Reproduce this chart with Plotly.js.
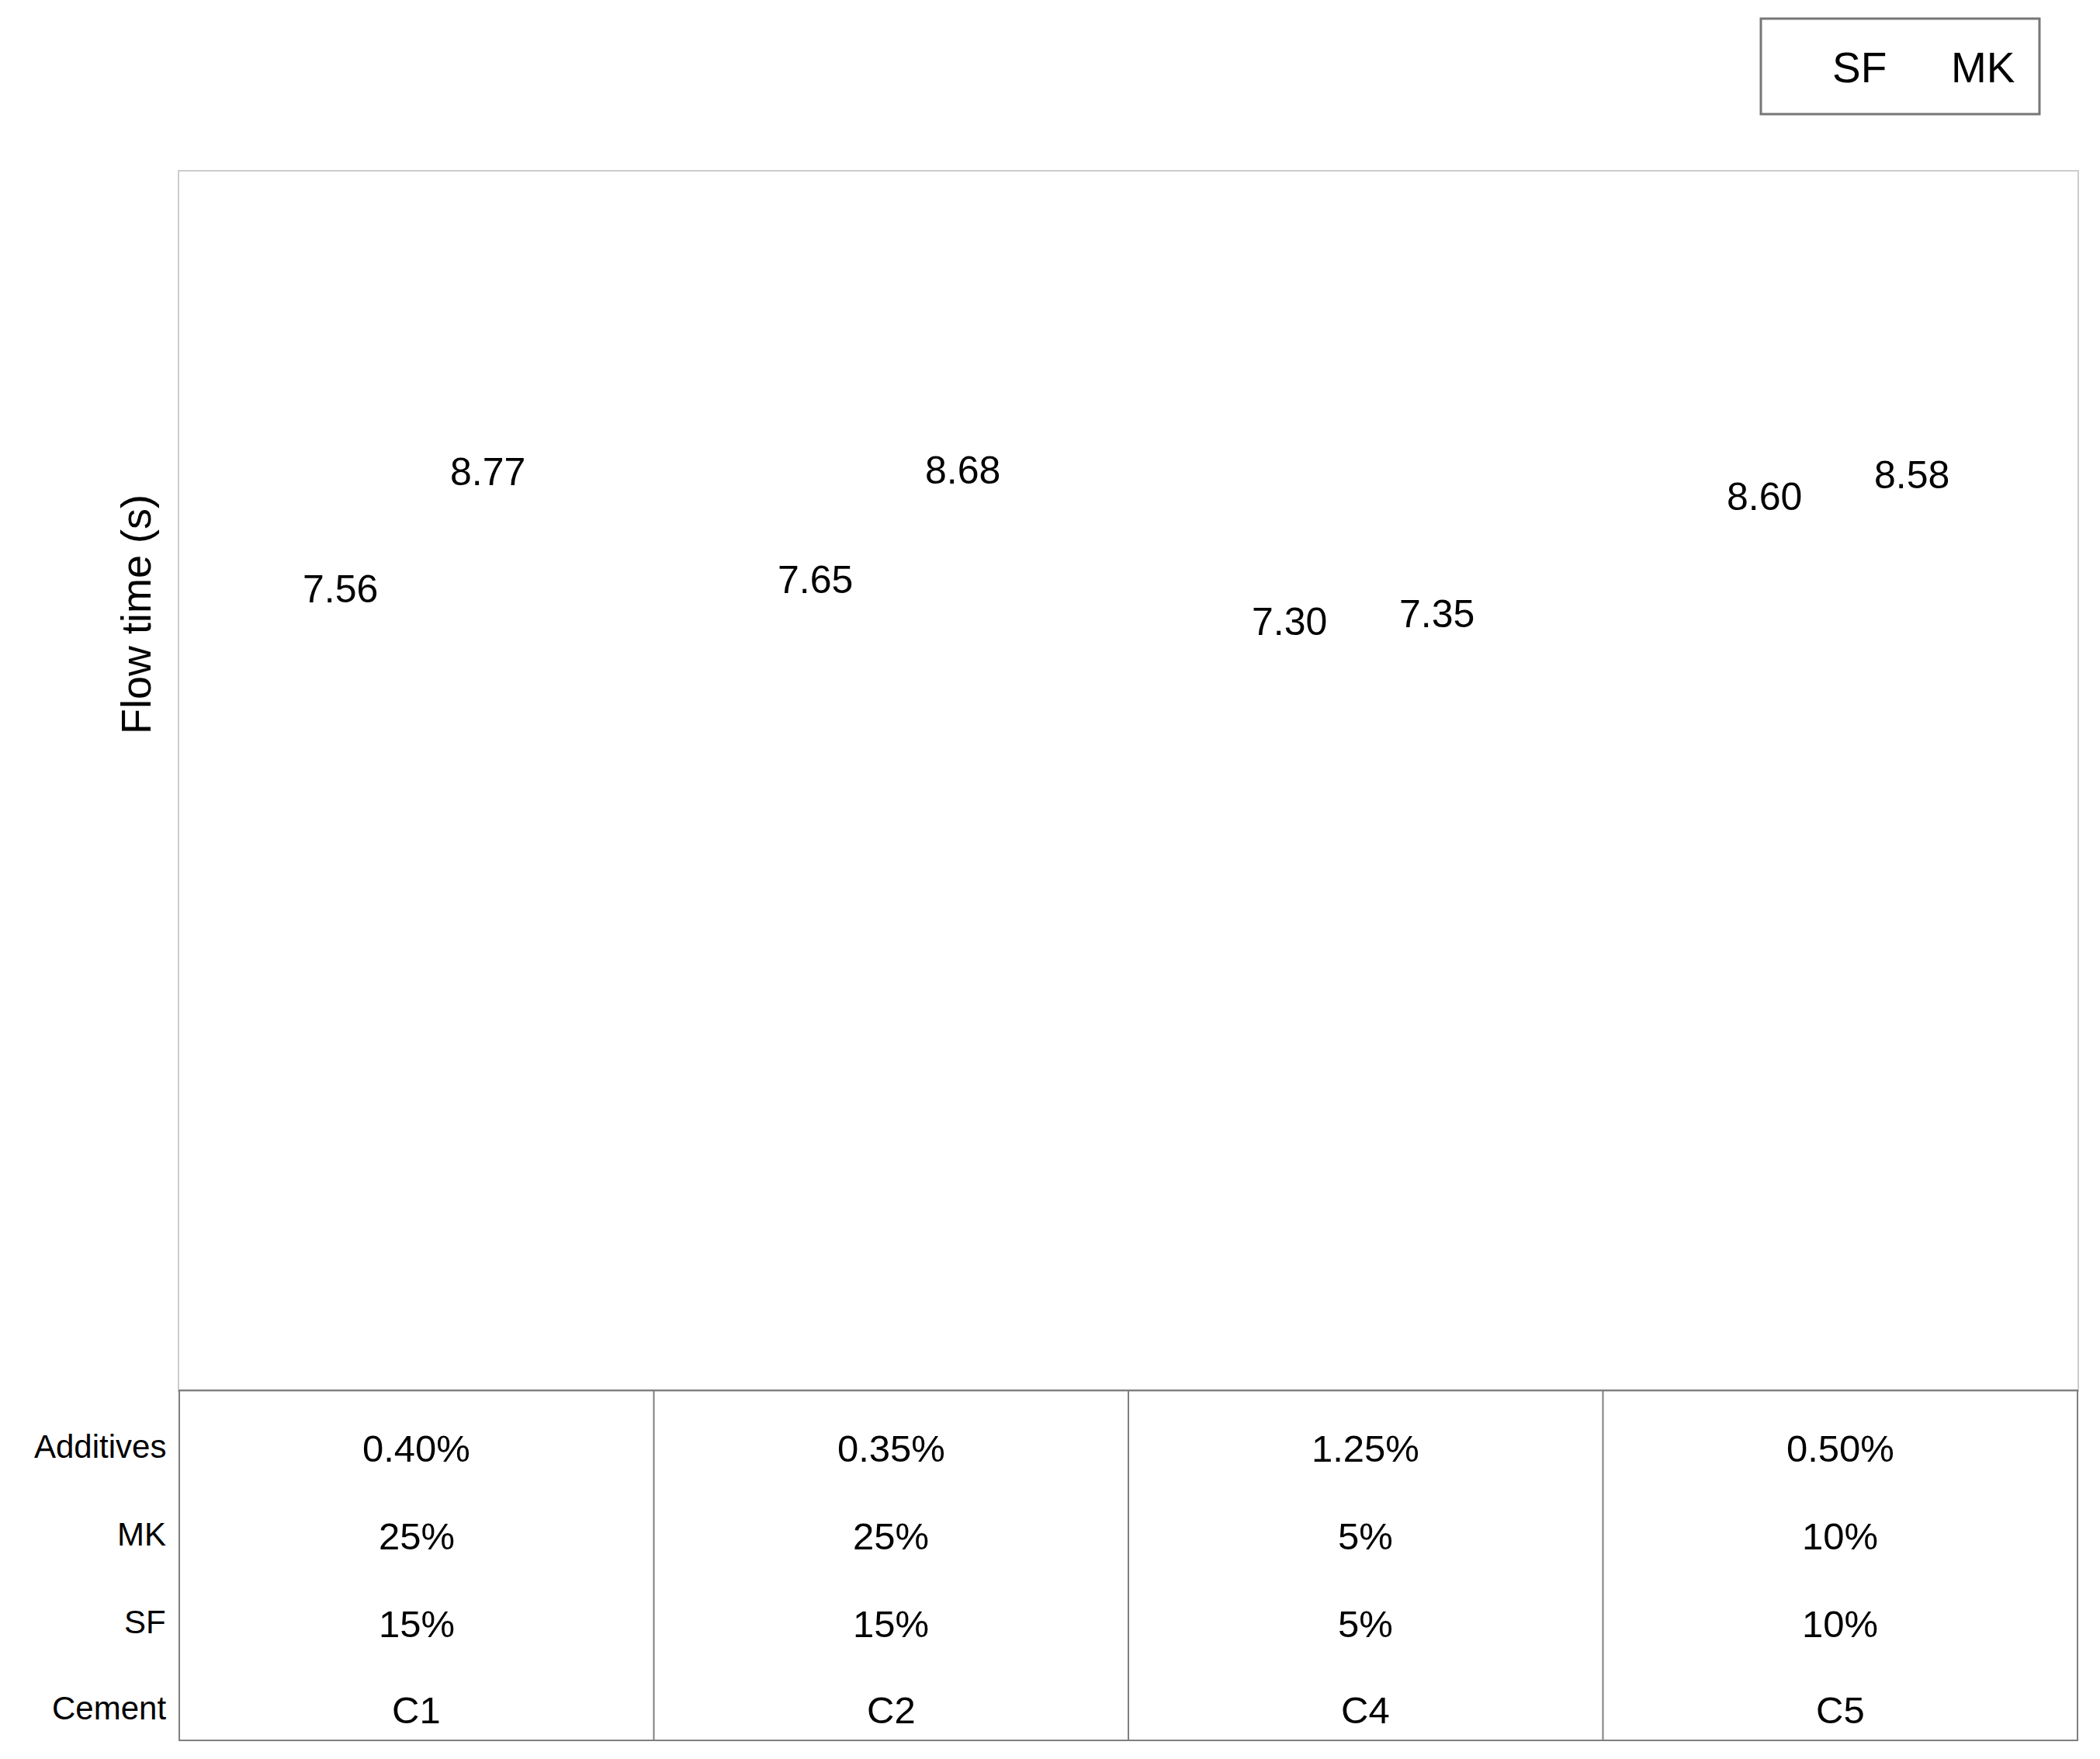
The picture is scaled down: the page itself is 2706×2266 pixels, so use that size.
<!DOCTYPE html>
<html>
<head>
<meta charset="utf-8">
<script src="https://cdn.plot.ly/plotly-3.0.1.min.js"></script>
<style>
  body { margin: 0; background: #fff; }
  #chart { width: 2706px; height: 2266px; }
</style>
</head>
<body>
<div id="chart"></div>
<script>
// Cement mixes (x categories)
const cements = ['C1', 'C2', 'C4', 'C5'];

// Flow time (s) for each series
const sfTime = [7.56, 7.65, 7.30, 8.60];
const mkTime = [8.77, 8.68, 7.35, 8.58];

// Estimated spread above each bar (bars and their error lines are blank in the source)
const sfSd = [0.33, 0.33, 0.27, 0.20];
const mkSd = [0.27, 0.38, 0.29, 0.43];

// Table under the chart
const rowLabels = ['Additives', 'MK', 'SF', 'Cement'];
const additives = ['0.40%', '0.35%', '1.25%', '0.50%'];
const mkPct = ['25%', '25%', '5%', '10%'];
const sfPct = ['15%', '15%', '5%', '10%'];

// page geometry
const W = 2706, H = 2266;
const mL = 231, mR = 29, mT = 221, mB = 475;
const plotW = W - mL - mR;
const plotH = H - mT - mB;
const bargap = 0.36;
const barShift = (plotW / cements.length) * (1 - bargap) / 4;

const px = p => (p - mL) / plotW;
const py = p => (H - mB - p) / plotH;

const font = 'Liberation Sans, Arial, sans-serif';

const traces = [{
    x: cements,
    y: sfTime,
    type: 'bar',
    name: 'SF',
    marker: { color: 'rgba(0,0,0,0)', line: { width: 0 } },
    error_y: { type: 'data', array: sfSd, visible: true, color: 'rgba(0,0,0,0)' },
    hoverinfo: 'y'
}, {
    x: cements,
    y: mkTime,
    type: 'bar',
    name: 'MK',
    marker: { color: 'rgba(0,0,0,0)', line: { width: 0 } },
    error_y: { type: 'data', array: mkSd, visible: true, color: 'rgba(0,0,0,0)' },
    hoverinfo: 'y'
}];

const annotations = [];

// value labels above each bar
cements.forEach((c, i) => {
    annotations.push({
        x: c, y: sfTime[i] + sfSd[i], xref: 'x', yref: 'y',
        xshift: -barShift, yanchor: 'middle', showarrow: false,
        text: sfTime[i].toFixed(2), font: { family: font, size: 50, color: '#000' }
    });
    annotations.push({
        x: c, y: mkTime[i] + mkSd[i], xref: 'x', yref: 'y',
        xshift: barShift - 6, yanchor: 'middle', showarrow: false,
        text: mkTime[i].toFixed(2), font: { family: font, size: 50, color: '#000' }
    });
});

// y axis title (sits above the middle of the plot in the source)
annotations.push({
    x: px(175), y: py(792), xref: 'paper', yref: 'paper',
    xanchor: 'center', yanchor: 'middle', textangle: -90, showarrow: false,
    text: 'Flow time (s)', font: { family: font, size: 54, color: '#000' }
});

// table rows
const rowVals = [additives, mkPct, sfPct, cements];
const rowY = [1863, 1976, 2089, 2200];
rowLabels.forEach((lab, r) => {
    annotations.push({
        x: px(216), y: py(rowY[r]), xref: 'paper', yref: 'paper',
        xanchor: 'right', yanchor: 'middle', showarrow: false,
        text: lab, font: { family: font, size: 42, color: '#000' }
    });
    rowVals[r].forEach((v, i) => {
        annotations.push({
            x: cements[i], y: py(rowY[r] + 3), xref: 'x', yref: 'paper',
            xanchor: 'center', yanchor: 'middle', showarrow: false,
            text: v, font: { family: font, size: 49, color: '#000' }
        });
    });
});

const shapes = [
    // table frame
    { type: 'rect', xref: 'paper', yref: 'paper', x0: 0, x1: 1, y0: 0, y1: py(2242),
      line: { color: '#7f7f7f', width: 2 }, fillcolor: 'rgba(0,0,0,0)' },
    // legend frame
    { type: 'rect', xref: 'paper', yref: 'paper', x0: px(2269), x1: px(2628), y0: py(24), y1: py(147),
      line: { color: '#767676', width: 3 }, fillcolor: 'rgba(0,0,0,0)' }
];
for (let i = 0; i < cements.length - 1; i++) {
    shapes.push({ type: 'line', xref: 'x', yref: 'paper', x0: i + 0.5, x1: i + 0.5, y0: 0, y1: py(2242),
                  line: { color: '#7f7f7f', width: 2 } });
}

const layout = {
    width: W,
    height: H,
    margin: { l: mL, r: mR, t: mT, b: mB, pad: 0 },
    barmode: 'group',
    bargap: bargap,
    bargroupgap: 0,
    plot_bgcolor: '#fff',
    paper_bgcolor: '#fff',
    showlegend: true,
    legend: {
        orientation: 'h',
        x: px(2321), y: py(85), xanchor: 'left', yanchor: 'middle',
        bgcolor: 'rgba(0,0,0,0)', borderwidth: 0,
        entrywidth: 108, entrywidthmode: 'pixels',
        font: { family: font, size: 55, color: '#000' }
    },
    xaxis: {
        type: 'category',
        showticklabels: false, ticks: '',
        showgrid: false, zeroline: false,
        showline: true, mirror: true, linecolor: '#cccccc', linewidth: 2
    },
    yaxis: {
        range: [0, 12],
        showticklabels: false, ticks: '',
        showgrid: false, zeroline: false,
        showline: true, mirror: true, linecolor: '#cccccc', linewidth: 2
    },
    annotations: annotations,
    shapes: shapes
};

Plotly.newPlot('chart', traces, layout, { displayModeBar: false, staticPlot: true });
</script>
</body>
</html>
